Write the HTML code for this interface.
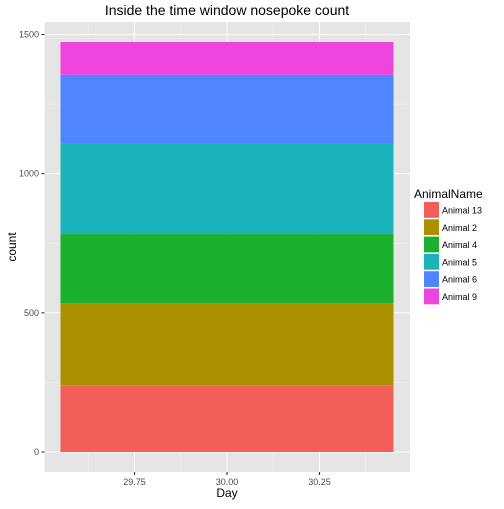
<!DOCTYPE html>
<html><head><meta charset="utf-8"><style>
body{margin:0;background:#fff;}
svg text{font-family:"Liberation Sans",sans-serif;}
</style></head><body>
<svg id="chart" width="504" height="504" xmlns="http://www.w3.org/2000/svg">
<text x="227" y="15" font-size="14" text-anchor="middle" fill="#000">Inside the time window nosepoke count</text>
<rect x="44.5" y="22" width="365.5" height="450" fill="#e5e5e5"/>
<g id="grid"></g>
<g id="bars"></g>
<g id="axes"></g>
<text x="227" y="497" font-size="12" text-anchor="middle">Day</text>
<text transform="translate(16,247) rotate(-90)" font-size="12" text-anchor="middle">count</text>
<text x="414" y="198" font-size="12">AnimalName</text>
<g id="legend"></g>
</svg>
<script>
const categories = ["Animal 13","Animal 2","Animal 4","Animal 5","Animal 6","Animal 9"];
const values = [240, 295, 248, 327, 245, 118];
const colors = ["#F35E5A","#AB9000","#1BB12F","#1AB3BA","#4E86FF","#EE45DD"];
const dayCenter = 30.0;
const barWidth = 0.9;
const yTicks = [0, 500, 1000, 1500];
const xTicks = ["29.75","30.00","30.25"];
const NS="http://www.w3.org/2000/svg";
function xs(d){return 227 + (d - 30.0)*370;}
function ys(v){return 452 - v*0.27833;}
function mk(tag, attrs, parent){const e=document.createElementNS(NS,tag);for(const k in attrs)e.setAttribute(k,attrs[k]);parent.appendChild(e);return e;}
const grid=document.getElementById('grid'), bars=document.getElementById('bars'), axes=document.getElementById('axes'), legend=document.getElementById('legend');
for(let i=0;i<yTicks.length-1;i++){const m=(yTicks[i]+yTicks[i+1])/2;const l=mk('line',{x1:44.5,x2:410,y1:ys(m),y2:ys(m),stroke:'#f2f2f2','stroke-width':0.6},grid);

}
const xv=xTicks.map(Number);
[xv[0]-0.125, xv[0]+0.125, xv[1]+0.125, xv[2]+0.125].forEach(v=>{const l=mk('line',{x1:xs(v),x2:xs(v),y1:22,y2:472,stroke:'#f2f2f2','stroke-width':0.6},grid);

});
yTicks.forEach(t=>{const l=mk('line',{x1:44.5,x2:410,y1:ys(t),y2:ys(t),stroke:'#fff','stroke-width':1.1},grid);


const tk=mk('line',{x1:41.5,x2:44.5,y1:ys(t),y2:ys(t),stroke:'#333','stroke-width':1.1},axes);


const tx=mk('text',{x:39,y:ys(t)+3,'font-size':9,'text-anchor':'end',fill:'#4d4d4d'},axes);tx.textContent=t;

});
xTicks.forEach(t=>{const v=Number(t);const l=mk('line',{x1:xs(v),x2:xs(v),y1:22,y2:472,stroke:'#fff','stroke-width':1.1},grid);


const tk=mk('line',{x1:xs(v),x2:xs(v),y1:472,y2:475,stroke:'#333','stroke-width':1.1},axes);


const tx=mk('text',{x:xs(v),y:485,'font-size':9,'text-anchor':'middle',fill:'#4d4d4d'},axes);tx.textContent=t;

});
let cum=0;
values.forEach((v,i)=>{const y0=ys(cum), y1=ys(cum+v);cum+=v;
const r=mk('rect',{x:xs(dayCenter-barWidth/2),width:xs(dayCenter+barWidth/2)-xs(dayCenter-barWidth/2),y:y1,height:y0-y1,fill:colors[i]},bars);


const k=mk('rect',{x:424,y:202+i*17.3,width:15,height:15.8,fill:colors[i]},legend);


const t=mk('text',{x:442,y:213.5+i*17.3,'font-size':9,fill:'#000'},legend);t.textContent=categories[i];

});
</script>
</body></html>
